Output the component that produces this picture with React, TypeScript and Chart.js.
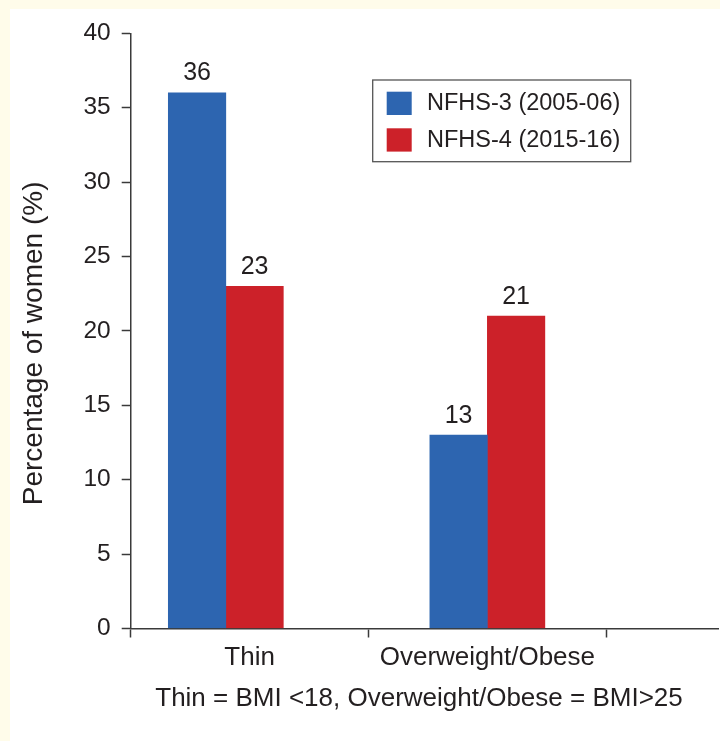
import React, { useEffect, useRef } from 'react';
import { Chart, registerables } from 'chart.js';

Chart.register(...registerables);

// ---- data ----
const categories = ['Thin', 'Overweight/Obese'];
const groupCentres = [0.4, 1.5]; // where each bar group sits on the numeric x scale
const categoryLabelAt = [0.5, 1.5]; // where each category label sits
const boundaryTicks = [0, 1, 2];
const seriesLabels = ['NFHS-3 (2005-06)', 'NFHS-4 (2015-16)'];
const nfhs3 = [36, 13];
const nfhs4 = [23, 21];
const yTitle = 'Percentage of women (%)';
const footnote = 'Thin = BMI <18, Overweight/Obese = BMI>25';

// ---- styles ----
const FONT = '"Liberation Sans", Arial, Helvetica, sans-serif';
const TEXT = '#231f20';
const AXIS = '#3a3a3a';
const BLUE = '#2d65b0';
const RED = '#cc2129';
const PAGE_BG = '#fffcea';

const overlay = {
  id: 'overlay',
  beforeDraw(chart: any) {
    const { ctx, width, height } = chart;
    ctx.save();
    ctx.fillStyle = PAGE_BG;
    ctx.fillRect(0, 0, width, height);
    ctx.fillStyle = '#ffffff';
    ctx.fillRect(10, 9, width - 10, height - 9);
    ctx.restore();
  },
  afterDraw(chart: any) {
    const { ctx, chartArea } = chart;
    ctx.save();
    ctx.fillStyle = TEXT;

    // value labels above bars
    ctx.font = `25px ${FONT}`;
    ctx.textAlign = 'center';
    ctx.textBaseline = 'alphabetic';
    chart.data.datasets.forEach((ds: any, di: number) => {
      const meta = chart.getDatasetMeta(di);
      meta.data.forEach((bar: any, i: number) => {
        ctx.fillText(String(ds.data[i].y), bar.x, bar.y - 12.5);
      });
    });

    // y axis title
    ctx.save();
    ctx.translate(34, (chartArea.top + chartArea.bottom) / 2 + 12.5);
    ctx.rotate(-Math.PI / 2);
    ctx.font = `28px ${FONT}`;
    ctx.textAlign = 'center';
    ctx.textBaseline = 'middle';
    ctx.fillText(yTitle, 0, 0);
    ctx.restore();

    // footnote
    ctx.font = `26px ${FONT}`;
    ctx.textAlign = 'center';
    ctx.textBaseline = 'alphabetic';
    ctx.fillText(footnote, 419, 706);

    // legend box
    const lx = 372.7, ly = 80, lw = 258, lh = 81.7;
    ctx.strokeStyle = '#555555';
    ctx.lineWidth = 1.3;
    ctx.strokeRect(lx, ly, lw, lh);
    ctx.font = `23.5px ${FONT}`;
    ctx.textAlign = 'left';
    chart.data.datasets.forEach((ds: any, di: number) => {
      const rowY = ly + 11.7 + di * 36.6;
      ctx.fillStyle = ds.backgroundColor;
      ctx.fillRect(lx + 14, rowY, 25, 23.3);
      ctx.fillStyle = TEXT;
      ctx.fillText(ds.label, lx + 54.3, rowY + 18.3);
    });

    ctx.restore();
  },
};

export default function App() {
  const ref = useRef<HTMLCanvasElement | null>(null);

  useEffect(() => {
    document.body.style.margin = '0';
    document.body.style.background = PAGE_BG;
    const canvas = ref.current;
    if (!canvas) return;

    const chart = new Chart(canvas, {
      type: 'bar',
      data: {
        datasets: [
          {
            label: seriesLabels[0],
            data: groupCentres.map((x, i) => ({ x, y: nfhs3[i] })),
            backgroundColor: BLUE,
            barThickness: 57.5,
          },
          {
            label: seriesLabels[1],
            data: groupCentres.map((x, i) => ({ x, y: nfhs4[i] })),
            backgroundColor: RED,
            barThickness: 57.5,
          },
        ],
      } as any,
      options: {
        animation: false,
        responsive: false,
        devicePixelRatio: 1,
        layout: { padding: { left: 10, top: 33.3, right: 2, bottom: 0 } },
        plugins: {
          legend: { display: false },
          tooltip: { enabled: false },
          title: { display: false },
        },
        scales: {
          x: {
            type: 'linear',
            min: 0,
            max: 2.47,
            offset: false,
            afterBuildTicks: (s: any) => {
              s.ticks = [...boundaryTicks, ...categoryLabelAt]
                .sort((a, b) => a - b)
                .map((v) => ({ value: v }));
            },
            afterFit: (s: any) => {
              s.height = 112.5;
            },
            ticks: {
              autoSkip: false,
              maxRotation: 0,
              minRotation: 0,
              padding: 5,
              color: TEXT,
              font: { family: FONT, size: 26 },
              callback: (v: any) => {
                const i = categoryLabelAt.indexOf(Number(v));
                return i >= 0 ? categories[i] : '';
              },
            },
            grid: {
              offset: false,
              drawOnChartArea: false,
              drawTicks: true,
              tickLength: 9,
              tickWidth: 1.5,
              tickColor: (c: any) =>
                c.tick && boundaryTicks.includes(c.tick.value) ? AXIS : 'rgba(0,0,0,0)',
            },
            border: { display: true, color: AXIS, width: 1.5 },
          },
          y: {
            min: 0,
            max: 40,
            afterFit: (s: any) => {
              s.width = 120.7;
            },
            ticks: {
              stepSize: 5,
              padding: 11,
              color: TEXT,
              font: { family: FONT, size: 24.5 },
            },
            grid: {
              drawOnChartArea: false,
              drawTicks: true,
              tickLength: 9,
              tickWidth: 1.5,
              tickColor: AXIS,
            },
            border: { display: true, color: AXIS, width: 1.5 },
          },
        },
      } as any,
      plugins: [overlay],
    });

    return () => chart.destroy();
  }, []);

  return (
    <div style={{ width: 720, height: 741 }}>
      <canvas ref={ref} width={720} height={741} style={{ display: 'block' }} />
    </div>
  );
}
